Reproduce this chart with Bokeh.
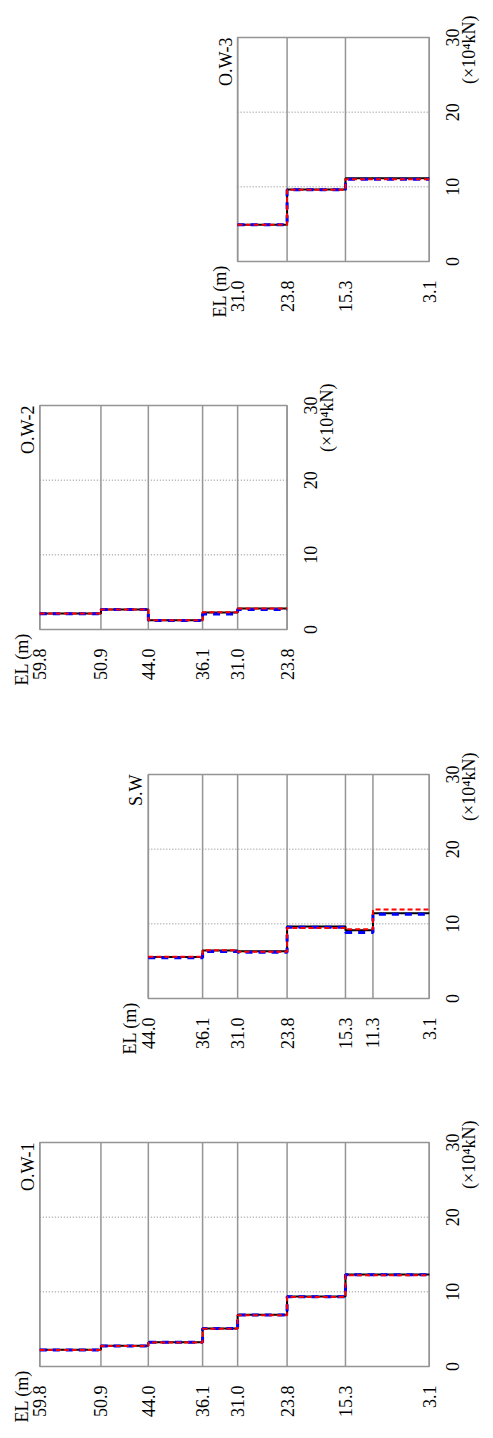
import math
from bokeh.plotting import figure
from bokeh.models import Range1d
from bokeh.core.properties import value
from bokeh.embed import file_html
from bokeh.resources import INLINE

FONT = "Liberation Serif"
FS = "18px"
GRAY = "#959595"
DOT_GRAY = "#808080"

# ---- layout constants (pixels) ----
FIG_W = 493
PX_PER_M = 6.869          # horizontal pixels per metre of elevation
LEFT_PX = 39.3            # pixel column of the highest elevation
BOX_H = 224               # height of each panel box

# ---- data ----
force_ticks = [0, 10, 20, 30]
force_unit = "(×10⁴kN)"
el_label = "EL (m)"

titles = ["O.W-3", "O.W-2", "S.W", "O.W-1"]

# O.W-3
ow3_el = [31.0, 23.8, 15.3, 3.1]
ow3_black = [4.91, 9.64, 11.16]
ow3_blue = [4.91, 9.62, 11.03]
ow3_red = [4.91, 9.62, 11.03]

# O.W-2
ow2_el = [59.8, 50.9, 44.0, 36.1, 31.0, 23.8]
ow2_black = [2.14, 2.67, 1.25, 2.27, 2.81]
ow2_blue = [2.12, 2.67, 1.20, 2.09, 2.68]
ow2_red = [2.14, 2.67, 1.25, 2.30, 2.81]

# S.W
sw_el = [44.0, 36.1, 31.0, 23.8, 15.3, 11.3, 3.1]
sw_black = [5.57, 6.42, 6.33, 9.64, 9.14, 11.42]
sw_blue = [5.45, 6.28, 6.20, 9.55, 8.83, 11.28]
sw_red = [5.60, 6.46, 6.25, 9.45, 9.28, 11.91]

# O.W-1
ow1_el = [59.8, 50.9, 44.0, 36.1, 31.0, 23.8, 15.3, 3.1]
ow1_black = [2.23, 2.77, 3.26, 5.09, 6.92, 9.37, 12.32]
ow1_blue = [2.20, 2.75, 3.25, 5.08, 6.90, 9.35, 12.28]
ow1_red = [2.20, 2.75, 3.22, 5.05, 6.88, 9.30, 12.22]

TOP_EL = max(ow1_el + sw_el + ow2_el + ow3_el)
F_LO, F_HI = force_ticks[0], force_ticks[-1]
PX_PER_F = BOX_H / (F_HI - F_LO)

TXT = dict(text_font=value(FONT), text_font_size=value(FS), text_color="black",
           angle=math.pi / 2)


def panel(title, el, black, blue, red, height, top):
    x_start = TOP_EL + LEFT_PX / PX_PER_M
    x_end = TOP_EL - (FIG_W - LEFT_PX) / PX_PER_M
    y_end = F_HI + top / PX_PER_F
    y_start = F_LO - (height - top - BOX_H) / PX_PER_F
    p = figure(width=FIG_W, height=height,
               x_range=Range1d(x_start, x_end), y_range=Range1d(y_start, y_end),
               x_axis_type=None, y_axis_type=None, min_border=0,
               output_backend="svg", toolbar_location=None)
    p.outline_line_color = None
    p.background_fill_color = "white"
    p.border_fill_color = "white"

    n = len(el)
    inner = force_ticks[1:-1]
    # dotted force grid
    p.segment(x0=[el[0]] * len(inner), y0=inner, x1=[el[-1]] * len(inner), y1=inner,
              line_color=DOT_GRAY, line_width=1, line_dash="1 2")
    # elevation boundaries
    p.segment(x0=el, y0=[F_LO] * n, x1=el, y1=[F_HI] * n,
              line_color=GRAY, line_width=1.5)
    # box
    p.quad(left=[el[0]], right=[el[-1]], bottom=[F_LO], top=[F_HI],
           fill_color=None, line_color=GRAY, line_width=1.5)

    for vals, color, width, dash in [(black, "black", 2, "solid"),
                                     (blue, "#0000ff", 3, "7 6"),
                                     (red, "#ff0000", 2, "5 3")]:
        p.step(x=el, y=list(vals) + [vals[-1]], mode="after",
               line_color=color, line_width=width, line_dash=dash)

    # elevation tick labels
    p.text(x=el, y=[F_LO] * n, text=["%.1f" % e for e in el],
           text_align="right", text_baseline="middle", y_offset=19, **TXT)
    # force tick labels
    p.text(x=[el[-1]] * len(force_ticks), y=force_ticks, text=[str(f) for f in force_ticks],
           text_align="center", text_baseline="middle", x_offset=23, **TXT)
    # unit
    p.text(x=[el[-1]], y=[F_HI], text=[force_unit],
           text_align="right", text_baseline="middle", x_offset=40, y_offset=-22, **TXT)
    # panel title
    p.text(x=[el[0]], y=[F_HI], text=[title],
           text_align="right", text_baseline="middle", x_offset=-12, **TXT)
    # elevation label
    p.text(x=[el[0]], y=[F_LO], text=[el_label],
           text_align="left", text_baseline="middle", x_offset=-18, y_offset=56, **TXT)
    return p


p3 = panel(titles[0], ow3_el, ow3_black, ow3_blue, ow3_red, 376, 37)
p2 = panel(titles[1], ow2_el, ow2_black, ow2_blue, ow2_red, 369, 29)
p1s = panel(titles[2], sw_el, sw_black, sw_blue, sw_red, 368, 29)
p1 = panel(titles[3], ow1_el, ow1_black, ow1_blue, ow1_red, 322, 29)

open("out.html", "w").write(file_html([p3, p2, p1s, p1], INLINE))
